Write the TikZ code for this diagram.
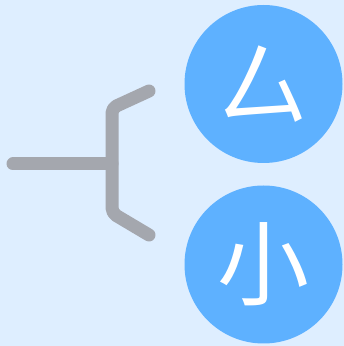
\documentclass[tikz,border=0pt]{standalone}
\usepackage{fontspec}
\newfontfamily\cjk{Noto Sans CJK SC}
\usepackage{tikz}
\usetikzlibrary{positioning, calc}

\definecolor{bgblue}{HTML}{DEEEFF}
\definecolor{ballblue}{HTML}{5EB1FF}
\definecolor{bargray}{HTML}{A4A7AE}

\tikzset{
  part/.style={circle, fill=ballblue, minimum size=158pt, inner sep=0pt,
    text=white, font=\cjk\fontsize{92}{92}\selectfont},
  bracket/.style={bargray, line width=13pt, line cap=round, line join=round, rounded corners=5pt}
}

\begin{document}
\begin{tikzpicture}[x=1pt, y=1pt]
  \fill[bgblue] (0,0) rectangle (344,346);
  \useasboundingbox (0,0) rectangle (344,346);

  % Components
  \node[part] (si) at (263.5,262) {厶};
  \node[part] (xiao) at (263.5,81.5) {小};

  % Bracket
  \coordinate (root) at (13,182);
  \coordinate (join) at (112,182);
  \coordinate (topend) at (149,255);
  \coordinate (botend) at (149,111);
  \draw[bracket] (root) -- (join);
  \draw[bracket] (topend) -- (112,238) -- (112,133) -- (botend);
\end{tikzpicture}
\end{document}
